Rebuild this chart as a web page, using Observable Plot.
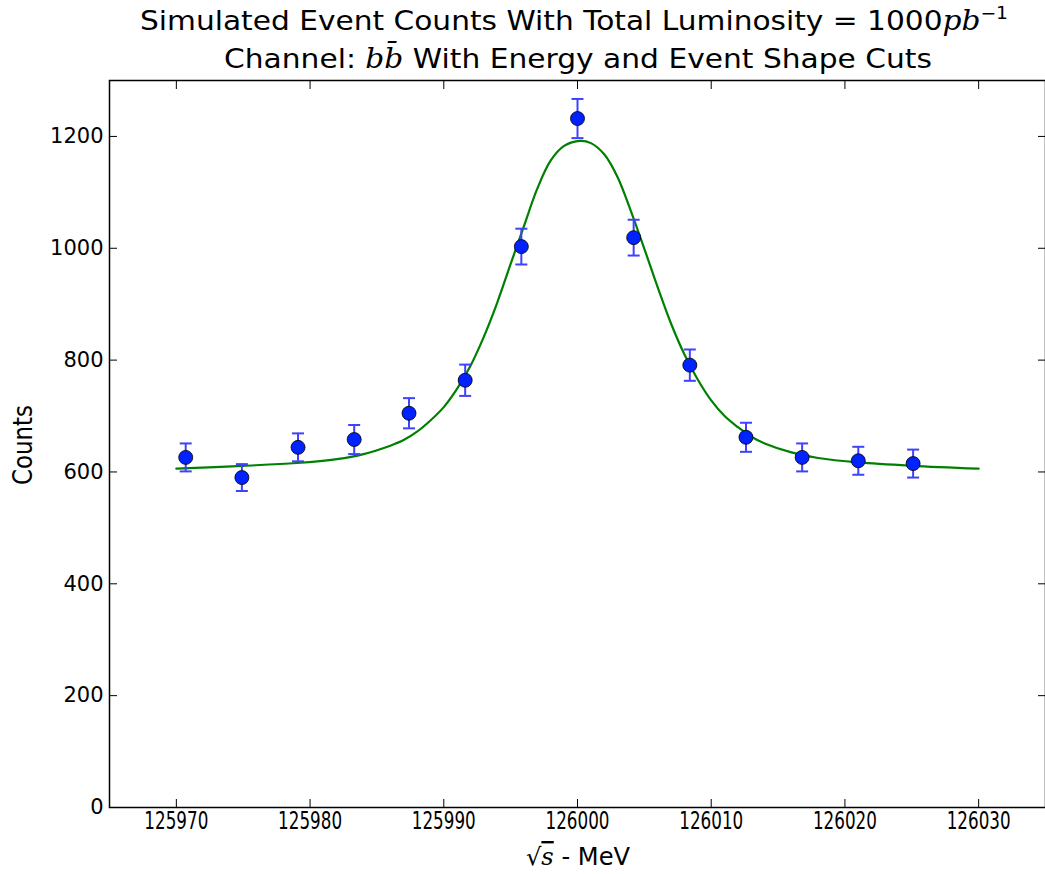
<!DOCTYPE html>
<html>
<head>
<meta charset="utf-8">
<script src="https://cdn.jsdelivr.net/npm/d3@7"></script>
<script src="https://cdn.jsdelivr.net/npm/@observablehq/plot@0.6"></script>
<style>
  html, body { margin: 0; padding: 0; background: #fff; }
  #title { display: block; }
  #chart svg { display: block; }
</style>
</head>
<body>
<svg id="title" width="1045" height="78"></svg>
<div id="chart"></div>
<script>
// ---- data ----
const energies = [125970.7, 125974.9, 125979.1, 125983.3, 125987.4, 125991.6, 125995.8, 126000.0, 126004.2, 126008.4, 126012.6, 126016.8, 126021.0, 126025.1];
const counts   = [626, 590, 644, 658, 705, 764, 1003, 1232, 1019, 791, 662, 626, 620, 615];
const errors   = [25, 24, 25, 26, 27, 28, 32, 35, 32, 28, 26, 25, 25, 25];

const fitEnergies = [125970, 125975, 125979, 125982, 125984, 125986, 125987, 125988, 125989, 125990, 125991, 125992, 125993, 125994, 125995, 125996, 125997, 125998, 125999, 126000.2,
                     126001, 126002, 126003, 126004, 126005, 126006, 126007, 126008, 126009, 126010, 126011, 126012, 126013, 126014, 126016, 126018, 126021, 126025, 126030];
const fitCounts   = [606, 611, 616, 623, 632, 647, 657, 672, 692, 716, 749, 790, 842, 903, 972, 1040, 1107, 1157, 1183, 1192,
                     1188, 1168, 1127, 1066, 999, 930, 865, 810, 765, 728, 700, 680, 663, 651, 635, 625, 617, 611, 606];

const xTicks = [125970, 125980, 125990, 126000, 126010, 126020, 126030];
const yTicks = [0, 200, 400, 600, 800, 1000, 1200];

const points = energies.map((e, i) => ({x: e, y: counts[i], err: errors[i]}));
const fit = fitEnergies.map((e, i) => ({x: e, y: fitCounts[i]}));

// ---- title ----
const t = d3.select("#title");
const l1 = t.append("text").attr("x", 140).attr("y", 30)
  .attr("font-family", "DejaVu Sans").attr("font-size", 27).attr("fill", "#000")
  .attr("textLength", 868).attr("lengthAdjust", "spacingAndGlyphs");
l1.append("tspan").text("Simulated Event Counts With Total Luminosity = 1000");
l1.append("tspan").attr("font-family", "DejaVu Serif").attr("font-style", "italic").text("pb");
l1.append("tspan").attr("font-size", 17).attr("dy", -11).text("\u22121");

const l2 = t.append("text").attr("x", 224).attr("y", 68)
  .attr("font-family", "DejaVu Sans").attr("font-size", 27).attr("fill", "#000")
  .attr("textLength", 708).attr("lengthAdjust", "spacingAndGlyphs");
l2.append("tspan").text("Channel: ");
l2.append("tspan").attr("font-family", "DejaVu Serif").attr("font-style", "italic").text("bb\u0304");
l2.append("tspan").text(" With Energy and Event Shape Cuts");

// ---- cap symbol for error bars ----
const capSymbol = {
  draw(context, size) {
    const r = Math.sqrt(size / Math.PI);
    context.moveTo(-r, 0);
    context.lineTo(r, 0);
  }
};

const plot = Plot.plot({
  width: 1045,
  height: 796,
  marginTop: 2,
  marginBottom: 67,
  marginLeft: 109,
  marginRight: 0,
  style: {fontFamily: "DejaVu Sans", fontSize: "22px", color: "#000", background: "#fff"},
  x: {domain: [125965, 126035], ticks: xTicks, tickFormat: d3.format("d"), label: null},
  y: {domain: [0, 1300], ticks: yTicks, tickFormat: d3.format("d"), label: null},
  marks: [
    Plot.axisX({ticks: xTicks, tickFormat: d3.format("d"), tickSize: -8, tickPadding: 12, label: null, stroke: "#000", fontSize: 24}),
    Plot.axisX({anchor: "top", ticks: xTicks, tickFormat: () => "", tickSize: -8, label: null, stroke: "#000"}),
    Plot.axisY({ticks: yTicks, tickFormat: d3.format("d"), tickSize: -8, tickPadding: 14, label: null, stroke: "#000", fontSize: 21}),
    Plot.axisY({anchor: "right", ticks: yTicks, tickFormat: () => "", tickSize: -8, label: null, stroke: "#000"}),
    Plot.line(fit, {x: "x", y: "y", curve: "catmull-rom", stroke: "#008000", strokeWidth: 2.2}),
    Plot.ruleX(points, {x: "x", y1: d => d.y - d.err, y2: d => d.y + d.err, stroke: "#4040ff", strokeWidth: 2}),
    Plot.dot(points, {x: "x", y: d => d.y - d.err, symbol: capSymbol, r: 6, stroke: "#4040ff", strokeWidth: 2, fill: "none"}),
    Plot.dot(points, {x: "x", y: d => d.y + d.err, symbol: capSymbol, r: 6, stroke: "#4040ff", strokeWidth: 2, fill: "none"}),
    Plot.dot(points, {x: "x", y: "y", r: 7, fill: "#0022ff", stroke: "#000", strokeWidth: 1, strokeOpacity: 0.8}),
    Plot.frame({stroke: "#000", strokeWidth: 1.5})
  ]
});

document.getElementById("chart").appendChild(plot);

const svg = d3.select(plot);
// condensed x tick labels like the reference
svg.selectAll('g[aria-label="x-axis tick label"] text')
  .attr("textLength", 64).attr("lengthAdjust", "spacingAndGlyphs");

// axis labels
svg.append("text")
  .attr("transform", "translate(32,367) rotate(-90)")
  .attr("text-anchor", "middle")
  .attr("font-family", "DejaVu Sans").attr("font-size", 26).attr("fill", "#000")
  .attr("textLength", 80).attr("lengthAdjust", "spacingAndGlyphs")
  .text("Counts");

const xl = svg.append("text")
  .attr("x", 578).attr("y", 787).attr("text-anchor", "middle")
  .attr("font-family", "DejaVu Sans").attr("font-size", 24).attr("fill", "#000")
  .attr("textLength", 104).attr("lengthAdjust", "spacingAndGlyphs");
xl.append("tspan").text("\u221A");
xl.append("tspan").attr("font-family", "DejaVu Serif").attr("font-style", "italic").attr("text-decoration", "overline").text("s");
xl.append("tspan").text(" - MeV");
</script>
</body>
</html>
